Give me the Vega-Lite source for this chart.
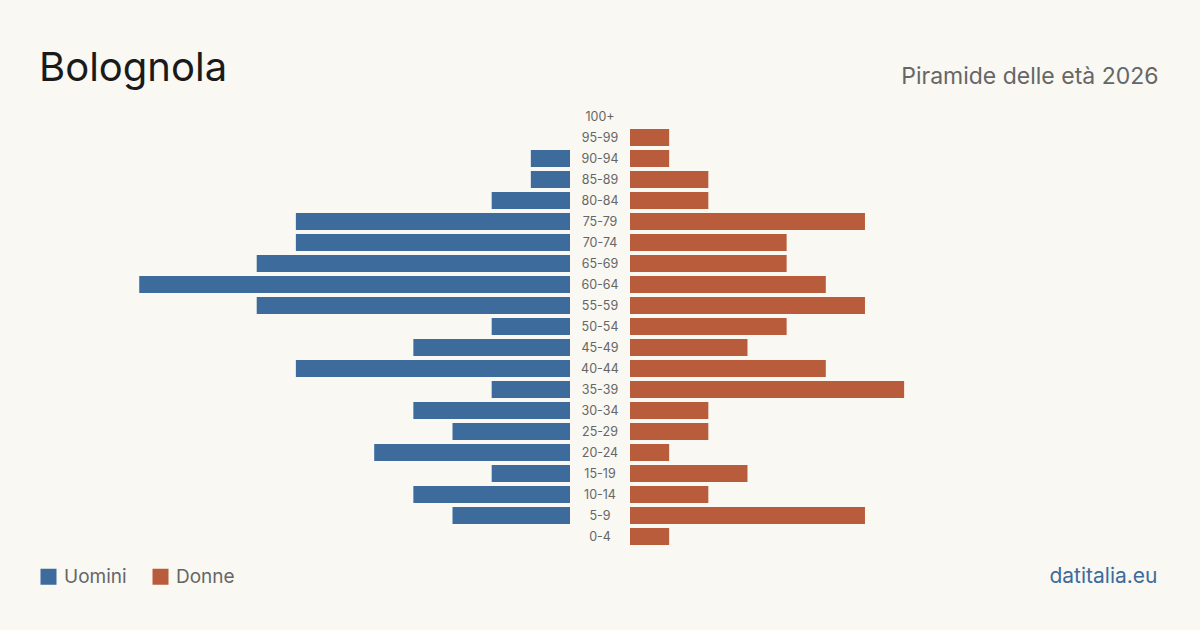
{
  "$schema": "https://vega.github.io/schema/vega-lite/v6.json",
  "width": 1120,
  "height": 441,
  "autosize": "none",
  "padding": {"left": 40, "top": 106, "right": 40, "bottom": 83},
  "background": "#f9f8f3",
  "title": {
    "text": "Bolognola",
    "anchor": "start",
    "fontSize": 40,
    "font": "Inter",
    "fontWeight": 400,
    "color": "#1a1a1a",
    "baseline": "alphabetic",
    "offset": 0,
    "dy": 56
  },
  "config": {
    "font": "Inter",
    "view": {"stroke": null}
  },
  "data": {
    "values": [
      {"eta": "100+", "sesso": "Uomini", "n": 0}, {"eta": "100+", "sesso": "Donne", "n": 0},
      {"eta": "95-99", "sesso": "Uomini", "n": 0}, {"eta": "95-99", "sesso": "Donne", "n": 1},
      {"eta": "90-94", "sesso": "Uomini", "n": 1}, {"eta": "90-94", "sesso": "Donne", "n": 1},
      {"eta": "85-89", "sesso": "Uomini", "n": 1}, {"eta": "85-89", "sesso": "Donne", "n": 2},
      {"eta": "80-84", "sesso": "Uomini", "n": 2}, {"eta": "80-84", "sesso": "Donne", "n": 2},
      {"eta": "75-79", "sesso": "Uomini", "n": 7}, {"eta": "75-79", "sesso": "Donne", "n": 6},
      {"eta": "70-74", "sesso": "Uomini", "n": 7}, {"eta": "70-74", "sesso": "Donne", "n": 4},
      {"eta": "65-69", "sesso": "Uomini", "n": 8}, {"eta": "65-69", "sesso": "Donne", "n": 4},
      {"eta": "60-64", "sesso": "Uomini", "n": 11}, {"eta": "60-64", "sesso": "Donne", "n": 5},
      {"eta": "55-59", "sesso": "Uomini", "n": 8}, {"eta": "55-59", "sesso": "Donne", "n": 6},
      {"eta": "50-54", "sesso": "Uomini", "n": 2}, {"eta": "50-54", "sesso": "Donne", "n": 4},
      {"eta": "45-49", "sesso": "Uomini", "n": 4}, {"eta": "45-49", "sesso": "Donne", "n": 3},
      {"eta": "40-44", "sesso": "Uomini", "n": 7}, {"eta": "40-44", "sesso": "Donne", "n": 5},
      {"eta": "35-39", "sesso": "Uomini", "n": 2}, {"eta": "35-39", "sesso": "Donne", "n": 7},
      {"eta": "30-34", "sesso": "Uomini", "n": 4}, {"eta": "30-34", "sesso": "Donne", "n": 2},
      {"eta": "25-29", "sesso": "Uomini", "n": 3}, {"eta": "25-29", "sesso": "Donne", "n": 2},
      {"eta": "20-24", "sesso": "Uomini", "n": 5}, {"eta": "20-24", "sesso": "Donne", "n": 1},
      {"eta": "15-19", "sesso": "Uomini", "n": 2}, {"eta": "15-19", "sesso": "Donne", "n": 3},
      {"eta": "10-14", "sesso": "Uomini", "n": 4}, {"eta": "10-14", "sesso": "Donne", "n": 2},
      {"eta": "5-9", "sesso": "Uomini", "n": 3}, {"eta": "5-9", "sesso": "Donne", "n": 6},
      {"eta": "0-4", "sesso": "Uomini", "n": 0}, {"eta": "0-4", "sesso": "Donne", "n": 1}
    ]
  },
  "encoding": {
    "y": {
      "field": "eta",
      "type": "nominal",
      "sort": ["100+", "95-99", "90-94", "85-89", "80-84", "75-79", "70-74", "65-69", "60-64", "55-59", "50-54", "45-49", "40-44", "35-39", "30-34", "25-29", "20-24", "15-19", "10-14", "5-9", "0-4"],
      "scale": {"paddingInner": 0.19, "paddingOuter": 0.095},
      "axis": null
    }
  },
  "layer": [
    {
      "transform": [{"filter": "datum.sesso === 'Uomini'"}],
      "mark": {"type": "bar", "xOffset": -30, "x2Offset": -30},
      "encoding": {
        "x": {
          "field": "n",
          "type": "quantitative",
          "scale": {"domain": [-14.3, 14.3], "reverse": true},
          "axis": {
            "orient": "top",
            "labels": false, "ticks": false, "domain": false, "grid": false,
            "title": "Piramide delle età 2026",
            "titleFontSize": 23,
            "titleFontWeight": 400,
            "titleColor": "#666666",
            "titleAlign": "right",
            "titleBaseline": "alphabetic",
            "titleX": 1118,
            "titleY": -23
          }
        },
        "x2": {"datum": 0},
        "color": {
          "field": "sesso",
          "type": "nominal",
          "scale": {"domain": ["Uomini", "Donne"], "range": ["#3d6b9c", "#b95c3b"]},
          "legend": {
            "orient": "none",
            "direction": "horizontal",
            "legendX": -1,
            "legendY": 461,
            "title": null,
            "symbolType": "square",
            "symbolSize": 256,
            "symbolStrokeWidth": 0,
            "symbolOpacity": 1,
            "labelFontSize": 19,
            "labelColor": "#666666",
            "labelOffset": 6,
            "columnPadding": 24
          }
        }
      }
    },
    {
      "transform": [{"filter": "datum.sesso === 'Donne'"}],
      "mark": {"type": "bar", "xOffset": 30, "x2Offset": 30},
      "encoding": {
        "x": {
          "field": "n",
          "type": "quantitative",
          "scale": {"domain": [-14.3, 14.3]},
          "axis": {
            "orient": "bottom",
            "labels": false, "ticks": false, "domain": false, "grid": false,
            "title": "datitalia.eu",
            "titleFontSize": 21,
            "titleFontWeight": 400,
            "titleColor": "#3d6b9c",
            "titleAlign": "right",
            "titleBaseline": "alphabetic",
            "titleX": 1117,
            "titleY": 35
          }
        },
        "x2": {"datum": 0},
        "color": {"field": "sesso", "type": "nominal"}
      }
    },
    {
      "transform": [{"filter": "datum.sesso === 'Donne'"}],
      "mark": {"type": "text", "fontSize": 12.5, "color": "#666666", "align": "center", "baseline": "middle"},
      "encoding": {
        "x": {"datum": 0, "type": "quantitative", "scale": {"domain": [-14.3, 14.3]}, "axis": null},
        "text": {"field": "eta"}
      }
    }
  ],
  "resolve": {"scale": {"x": "independent"}, "axis": {"x": "independent"}}
}
